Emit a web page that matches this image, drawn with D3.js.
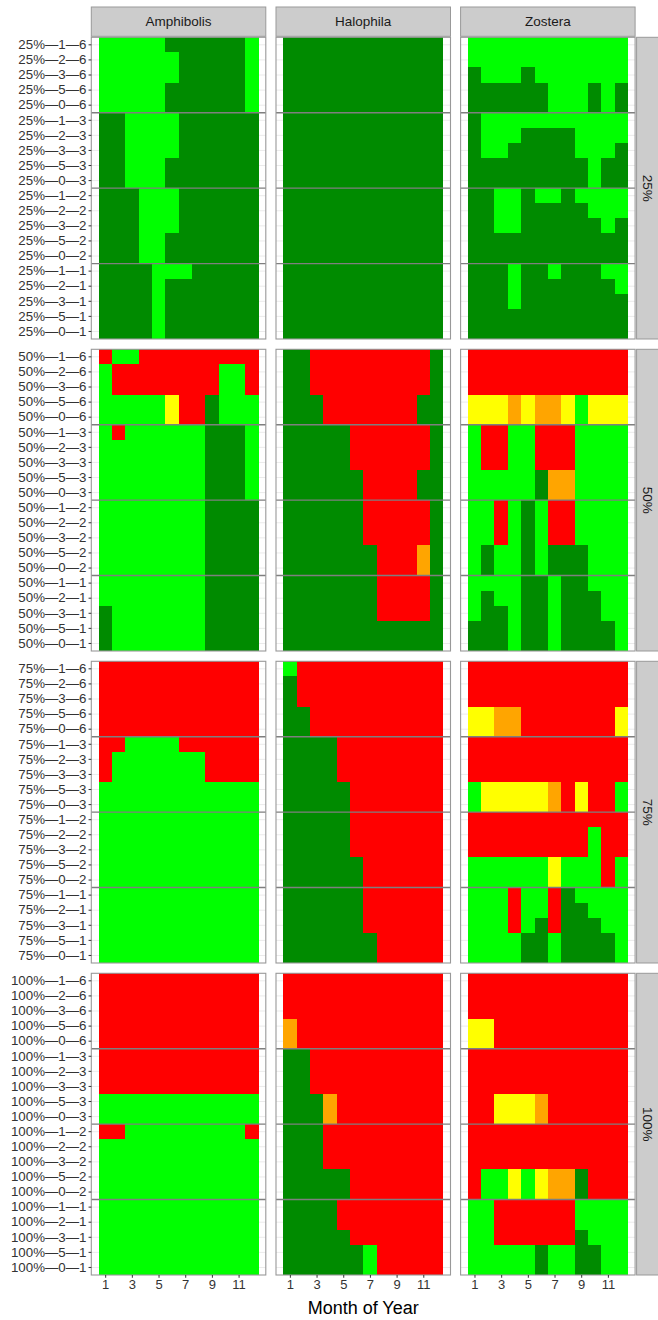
<!DOCTYPE html>
<html>
<head>
<meta charset="utf-8">
<script src="https://cdn.jsdelivr.net/npm/d3@7"></script>
<style>
  body { margin: 0; background: #fff; }
  svg { display: block; font-family: "Liberation Sans", Arial, sans-serif; }
</style>
</head>
<body>
<svg id="chart" width="658" height="1320"></svg>
<script>
// ---- categories ----
const species = ["Amphibolis", "Halophila", "Zostera"];
const levels = ["25%", "50%", "75%", "100%"];
const scenarios = ["1—6", "2—6", "3—6", "5—6", "0—6",
                   "1—3", "2—3", "3—3", "5—3", "0—3",
                   "1—2", "2—2", "3—2", "5—2", "0—2",
                   "1—1", "2—1", "3—1", "5—1", "0—1"];
const months = [1, 2, 3, 4, 5, 6, 7, 8, 9, 10, 11, 12];
const monthTicks = [1, 3, 5, 7, 9, 11];

// status per month: D = dark green, L = light green, R = red, Y = yellow, O = orange
const statusCodes = ["D", "L", "R", "Y", "O"];
const statusColours = ["#008B00", "#00FF00", "#FF0000", "#FFFF00", "#FFA500"];

// ---- monthly status, one string per scenario row (months 1..12) ----
const amphibolis25 = [
  "LLLLLDDDDDDL", "LLLLLLDDDDDL", "LLLLLLDDDDDL", "LLLLLDDDDDDL", "LLLLLDDDDDDL",
  "DDLLLLDDDDDD", "DDLLLLDDDDDD", "DDLLLLDDDDDD", "DDLLLDDDDDDD", "DDLLLDDDDDDD",
  "DDDLLLDDDDDD", "DDDLLLDDDDDD", "DDDLLLDDDDDD", "DDDLLDDDDDDD", "DDDLLDDDDDDD",
  "DDDDLLLDDDDD", "DDDDLDDDDDDD", "DDDDLDDDDDDD", "DDDDLDDDDDDD", "DDDDLDDDDDDD"];
const halophila25 = [
  "DDDDDDDDDDDD", "DDDDDDDDDDDD", "DDDDDDDDDDDD", "DDDDDDDDDDDD", "DDDDDDDDDDDD",
  "DDDDDDDDDDDD", "DDDDDDDDDDDD", "DDDDDDDDDDDD", "DDDDDDDDDDDD", "DDDDDDDDDDDD",
  "DDDDDDDDDDDD", "DDDDDDDDDDDD", "DDDDDDDDDDDD", "DDDDDDDDDDDD", "DDDDDDDDDDDD",
  "DDDDDDDDDDDD", "DDDDDDDDDDDD", "DDDDDDDDDDDD", "DDDDDDDDDDDD", "DDDDDDDDDDDD"];
const zostera25 = [
  "LLLLLLLLLLLL", "LLLLLLLLLLLL", "DLLLDLLLLLLL", "DDDDDDLLLDLD", "DDDDDDLLLDLD",
  "DLLLLLLLLLLL", "DLLLDDDDLLLL", "DLLDDDDDLLLD", "DDDDDDDDDLDD", "DDDDDDDDDLDD",
  "DDLLDLLDLLLL", "DDLLDDDDDLLL", "DDLLDDDDDDLD", "DDDDDDDDDDDD", "DDDDDDDDDDDD",
  "DDDLDDLDDDLL", "DDDLDDDDDDDL", "DDDLDDDDDDDD", "DDDDDDDDDDDD", "DDDDDDDDDDDD"];

const amphibolis50 = [
  "RLLRRRRRRRRR", "LRRRRRRRRLLR", "LRRRRRRRRLLR", "LLLLLYRRDLLL", "LLLLLYRRDLLL",
  "LRLLLLLLDDDL", "LLLLLLLLDDDL", "LLLLLLLLDDDL", "LLLLLLLLDDDL", "LLLLLLLLDDDL",
  "LLLLLLLLDDDD", "LLLLLLLLDDDD", "LLLLLLLLDDDD", "LLLLLLLLDDDD", "LLLLLLLLDDDD",
  "LLLLLLLLDDDD", "LLLLLLLLDDDD", "DLLLLLLLDDDD", "DLLLLLLLDDDD", "DLLLLLLLDDDD"];
const halophila50 = [
  "DDRRRRRRRRRD", "DDRRRRRRRRRD", "DDRRRRRRRRRD", "DDDRRRRRRRDD", "DDDRRRRRRRDD",
  "DDDDDRRRRRRD", "DDDDDRRRRRRD", "DDDDDRRRRRRD", "DDDDDDRRRRDD", "DDDDDDRRRRDD",
  "DDDDDDRRRRRD", "DDDDDDRRRRRD", "DDDDDDRRRRRD", "DDDDDDDRRROD", "DDDDDDDRRROD",
  "DDDDDDDRRRRD", "DDDDDDDRRRRD", "DDDDDDDRRRRD", "DDDDDDDDDDDD", "DDDDDDDDDDDD"];
const zostera50 = [
  "RRRRRRRRRRRR", "RRRRRRRRRRRR", "RRRRRRRRRRRR", "YYYOYOOYLYYY", "YYYOYOOYLYYY",
  "LRRLLRRRLLLL", "LRRLLRRRLLLL", "LRRLLRRRLLLL", "LLLLLDOOLLLL", "LLLLLDOOLLLL",
  "LLRLDLRRLLLL", "LLRLDLRRLLLL", "LLRLDLRRLLLL", "LDLLDLDDDLLL", "LDLLDLDDDLLL",
  "LLLLDDLDDLLL", "LDLLDDLDDDLL", "LDDLDDLDDDLL", "DDDLDDLDDDDL", "DDDLDDLDDDDL"];

const amphibolis75 = [
  "RRRRRRRRRRRR", "RRRRRRRRRRRR", "RRRRRRRRRRRR", "RRRRRRRRRRRR", "RRRRRRRRRRRR",
  "RRLLLLRRRRRR", "RLLLLLLLRRRR", "RLLLLLLLRRRR", "LLLLLLLLLLLL", "LLLLLLLLLLLL",
  "LLLLLLLLLLLL", "LLLLLLLLLLLL", "LLLLLLLLLLLL", "LLLLLLLLLLLL", "LLLLLLLLLLLL",
  "LLLLLLLLLLLL", "LLLLLLLLLLLL", "LLLLLLLLLLLL", "LLLLLLLLLLLL", "LLLLLLLLLLLL"];
const halophila75 = [
  "LRRRRRRRRRRR", "DRRRRRRRRRRR", "DRRRRRRRRRRR", "DDRRRRRRRRRR", "DDRRRRRRRRRR",
  "DDDDRRRRRRRR", "DDDDRRRRRRRR", "DDDDRRRRRRRR", "DDDDDRRRRRRR", "DDDDDRRRRRRR",
  "DDDDDRRRRRRR", "DDDDDRRRRRRR", "DDDDDRRRRRRR", "DDDDDDRRRRRR", "DDDDDDRRRRRR",
  "DDDDDDRRRRRR", "DDDDDDRRRRRR", "DDDDDDRRRRRR", "DDDDDDDRRRRR", "DDDDDDDRRRRR"];
const zostera75 = [
  "RRRRRRRRRRRR", "RRRRRRRRRRRR", "RRRRRRRRRRRR", "YYOORRRRRRRY", "YYOORRRRRRRY",
  "RRRRRRRRRRRR", "RRRRRRRRRRRR", "RRRRRRRRRRRR", "LYYYYYORYRRL", "LYYYYYORYRRL",
  "RRRRRRRRRRRR", "RRRRRRRRRLRR", "RRRRRRRRRLRR", "LLLLLLYLLLRL", "LLLLLLYLLLRL",
  "LLLRLLRDLLLL", "LLLRLLRDDLLL", "LLLRLDRDDDLL", "LLLLDDLDDDDL", "LLLLDDLDDDDL"];

const amphibolis100 = [
  "RRRRRRRRRRRR", "RRRRRRRRRRRR", "RRRRRRRRRRRR", "RRRRRRRRRRRR", "RRRRRRRRRRRR",
  "RRRRRRRRRRRR", "RRRRRRRRRRRR", "RRRRRRRRRRRR", "LLLLLLLLLLLL", "LLLLLLLLLLLL",
  "RRLLLLLLLLLR", "LLLLLLLLLLLL", "LLLLLLLLLLLL", "LLLLLLLLLLLL", "LLLLLLLLLLLL",
  "LLLLLLLLLLLL", "LLLLLLLLLLLL", "LLLLLLLLLLLL", "LLLLLLLLLLLL", "LLLLLLLLLLLL"];
const halophila100 = [
  "RRRRRRRRRRRR", "RRRRRRRRRRRR", "RRRRRRRRRRRR", "ORRRRRRRRRRR", "ORRRRRRRRRRR",
  "DDRRRRRRRRRR", "DDRRRRRRRRRR", "DDRRRRRRRRRR", "DDDORRRRRRRR", "DDDORRRRRRRR",
  "DDDRRRRRRRRR", "DDDRRRRRRRRR", "DDDRRRRRRRRR", "DDDDDRRRRRRR", "DDDDDRRRRRRR",
  "DDDDRRRRRRRR", "DDDDRRRRRRRR", "DDDDDRRRRRRR", "DDDDDDLRRRRR", "DDDDDDLRRRRR"];
const zostera100 = [
  "RRRRRRRRRRRR", "RRRRRRRRRRRR", "RRRRRRRRRRRR", "YYRRRRRRRRRR", "YYRRRRRRRRRR",
  "RRRRRRRRRRRR", "RRRRRRRRRRRR", "RRRRRRRRRRRR", "RRYYYORRRRRR", "RRYYYORRRRRR",
  "RRRRRRRRRRRR", "RRRRRRRRRRRR", "RRRRRRRRRRRR", "RLLYLYOODRRR", "RLLYLYOODRRR",
  "LLRRRRRRLLLL", "LLRRRRRRLLLL", "LLRRRRRRDLLL", "LLLLLDLLDDLL", "LLLLLDLLDDLL"];

// panel lookup: rows = cover level, columns = species
const panelData = [
  [amphibolis25, halophila25, zostera25],
  [amphibolis50, halophila50, zostera50],
  [amphibolis75, halophila75, zostera75],
  [amphibolis100, halophila100, zostera100]
];

// ---- layout ----
const panelLefts = [91.3, 276, 460.6];
const panelW = 174.5;
const panelTops = [37.3, 349.3, 661.3, 973.3];
const panelH = 301.7;
const stripTop = 7;
const stripW = 22;

const colour = d3.scaleOrdinal().domain(statusCodes).range(statusColours);
const x = d3.scaleLinear().domain([-0.04, 13.04]).range([0, panelW]);

const svg = d3.select("#chart");

levels.forEach((level, ri) => {
  const rowLabels = scenarios.map(s => level + "—" + s);
  const y = d3.scaleBand().domain(rowLabels).range([0, panelH]).padding(0);
  const bw = y.bandwidth();

  species.forEach((sp, ci) => {
    const g = svg.append("g")
      .attr("transform", `translate(${panelLefts[ci]},${panelTops[ri]})`);

    // background + horizontal grid
    g.append("rect").attr("width", panelW).attr("height", panelH).attr("fill", "#fff");
    g.selectAll("line.grid").data(rowLabels).join("line")
      .attr("class", "grid")
      .attr("x1", 0).attr("x2", panelW)
      .attr("y1", d => y(d) + bw / 2).attr("y2", d => y(d) + bw / 2)
      .attr("stroke", "#ebebeb").attr("stroke-width", 1);

    // tiles
    const cells = [];
    panelData[ri][ci].forEach((rowStr, k) => {
      months.forEach((m, mi) => cells.push({ label: rowLabels[k], month: m, status: rowStr[mi] }));
    });
    g.selectAll("rect.tile").data(cells).join("rect")
      .attr("class", "tile")
      .attr("x", d => x(d.month - 0.5))
      .attr("width", d => x(d.month + 0.5) - x(d.month - 0.5))
      .attr("y", d => y(d.label))
      .attr("height", bw)
      .attr("fill", d => colour(d.status))
      .attr("shape-rendering", "crispEdges");

    // group separators between rainfall blocks
    [5, 10, 15].forEach(k => {
      g.append("line")
        .attr("x1", 0).attr("x2", panelW)
        .attr("y1", y(rowLabels[k])).attr("y2", y(rowLabels[k]))
        .attr("stroke", "#7f7f7f").attr("stroke-width", 1.4);
    });

    // panel border
    g.append("rect").attr("width", panelW).attr("height", panelH)
      .attr("fill", "none").attr("stroke", "#999999").attr("stroke-width", 1.1);

    // y axis on the first column
    if (ci === 0) {
      const ay = g.append("g").call(d3.axisLeft(y).tickSize(2.75).tickPadding(2.2));
      ay.select(".domain").remove();
      ay.selectAll(".tick line").attr("stroke", "#333");
      ay.selectAll(".tick text").attr("fill", "#333").attr("font-size", 13.3)
        .attr("font-family", "'Liberation Sans', Arial, sans-serif");
    }

    // x axis on the bottom row
    if (ri === levels.length - 1) {
      const ax = g.append("g").attr("transform", `translate(0,${panelH})`)
        .call(d3.axisBottom(x).tickValues(monthTicks).tickSize(2.75).tickPadding(2.5));
      ax.select(".domain").remove();
      ax.selectAll(".tick line").attr("stroke", "#333");
      ax.selectAll(".tick text").attr("fill", "#333").attr("font-size", 13)
        .attr("font-family", "'Liberation Sans', Arial, sans-serif");
    }

    // species strip on top row
    if (ri === 0) {
      svg.append("rect")
        .attr("x", panelLefts[ci]).attr("y", stripTop)
        .attr("width", panelW).attr("height", panelTops[0] - stripTop - 1)
        .attr("fill", "#cccccc").attr("stroke", "#999999").attr("stroke-width", 1);
      svg.append("text")
        .attr("x", panelLefts[ci] + panelW / 2)
        .attr("y", (stripTop + panelTops[0] - 1) / 2)
        .attr("dy", "0.35em").attr("text-anchor", "middle")
        .attr("font-size", 13.5).attr("fill", "#1a1a1a").text(sp);
    }

    // cover-level strip on the right column
    if (ci === species.length - 1) {
      const sx = panelLefts[ci] + panelW + 1.5;
      svg.append("rect")
        .attr("x", sx).attr("y", panelTops[ri])
        .attr("width", stripW + 4).attr("height", panelH)
        .attr("fill", "#cccccc").attr("stroke", "#999999").attr("stroke-width", 1);
      const cx = sx + stripW / 2, cy = panelTops[ri] + panelH / 2;
      svg.append("text")
        .attr("transform", `translate(${cx},${cy}) rotate(90)`)
        .attr("dy", "0.35em").attr("text-anchor", "middle")
        .attr("font-size", 13.5).attr("fill", "#1a1a1a").text(level);
    }
  });
});

// x axis title
svg.append("text")
  .attr("x", panelLefts[0] + (panelLefts[2] + panelW - panelLefts[0]) / 2)
  .attr("y", 1308).attr("dy", "0.35em").attr("text-anchor", "middle")
  .attr("font-size", 18).attr("fill", "#000").text("Month of Year");
</script>
</body>
</html>
